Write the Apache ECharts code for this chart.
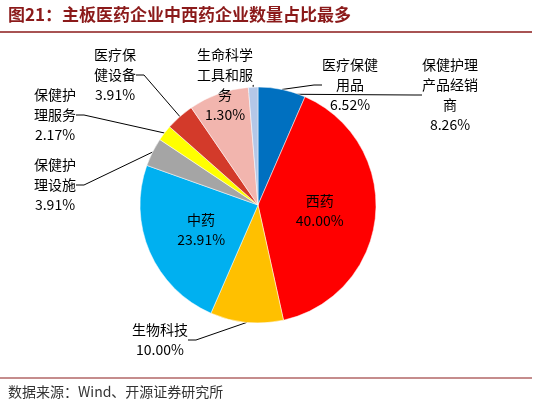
<!DOCTYPE html><html><head><meta charset="utf-8"><script src="https://cdn.jsdelivr.net/npm/echarts@6/dist/echarts.min.js"></script>
<style>body{margin:0}#c{width:551px;height:408px}</style></head><body><div id="c"></div><script>
const names=['医疗保健\n用品','西药','生物科技','中药','保健护\n理设施','保健护\n理服务','医疗保\n健设备','保健护理\n产品经销\n商','生命科学\n工具和服\n务'];
const values=[6.52,40.00,10.00,23.91,3.91,2.17,3.91,8.26,1.30];
const colors=['#0070C0','#FF0000','#FFC000','#00B0F0','#A5A5A5','#FFFF00','#D33A2A','#F2B5AE','#B4C7E7'];
const inside=[false,true,false,true,false,false,false,false,false];
const labelPos=[[350,85],null,[160,340],null,[55,185],[55,115],[115,75],[450,95],[225,85]];
const ch=echarts.init(document.getElementById('c'));
ch.setOption({
 animation:false,
 graphic:[
  {type:'text',left:8,top:6,style:{text:'图21：主板医药企业中西药企业数量占比最多',font:'bold 17px "Noto Sans CJK SC"',fill:'#8B1A1A'}},
  {type:'line',shape:{x1:0,y1:32,x2:532,y2:32},style:{stroke:'#8B1A1A',lineWidth:1.5}},
  {type:'line',shape:{x1:0,y1:378,x2:532,y2:378},style:{stroke:'#8B1A1A',lineWidth:1}},
  {type:'text',left:8,top:385,style:{text:'数据来源：Wind、开源证券研究所',font:'14px "Noto Sans CJK SC"',fill:'#333'}}
 ],
 series:[{type:'pie',center:[258,205],radius:[0,118],startAngle:90,clockwise:true,
  itemStyle:{borderColor:'#fff',borderWidth:0.5},
  label:{fontFamily:'Noto Sans CJK SC',fontSize:14,color:'#000',lineHeight:20,align:'center',formatter:p=>p.name+'\n'+p.value.toFixed(2)+'%'},
  labelLine:{lineStyle:{color:'#000'},length:12,length2:8},
  labelLayout:function(p){const q=labelPos[p.dataIndex];if(!q)return {};return {x:q[0],y:q[1],align:'center',verticalAlign:'middle'};},
  data:values.map((v,i)=>({value:v,name:names[i],itemStyle:{color:colors[i]},
    label:inside[i]?{position:'inside'}:{position:'outside'}}))
 }]
});
</script></body></html>
